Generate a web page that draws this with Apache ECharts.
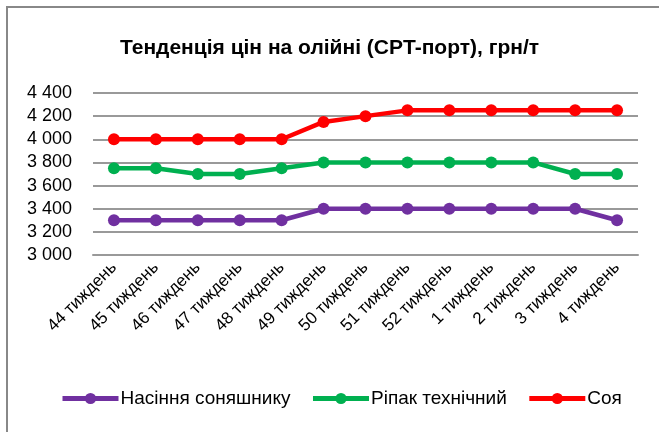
<!DOCTYPE html>
<html><head><meta charset="utf-8">
<script src="https://cdn.jsdelivr.net/npm/echarts@6/dist/echarts.min.js"></script>
<style>html,body{margin:0;padding:0;background:#fff}#c{width:659px;height:432px}</style>
</head><body><div id="c"></div>
<script>
const categories = ["44 тиждень","45 тиждень","46 тиждень","47 тиждень","48 тиждень","49 тиждень","50 тиждень","51 тиждень","52 тиждень","1 тиждень","2 тиждень","3 тиждень","4 тиждень"];
const sunflower = [3300,3300,3300,3300,3300,3400,3400,3400,3400,3400,3400,3400,3300];
const rapeseed = [3750,3750,3700,3700,3750,3800,3800,3800,3800,3800,3800,3700,3700];
const soy = [4000,4000,4000,4000,4000,4150,4200,4250,4250,4250,4250,4250,4250];
const seriesNames = ["Насіння соняшнику","Ріпак технічний","Соя"];
const colors = ["#7030A0","#00B050","#FF0000"];
const font = "Liberation Sans";
const chart = echarts.init(document.getElementById('c'));
const mk = (name, data, color) => ({
  name, type:'line', data, color,
  symbol:'circle', symbolSize:12,
  lineStyle:{width:4.5, color},
  itemStyle:{color},
  animation:false
});
chart.setOption({
  animation:false,
  graphic:[{type:'rect', shape:{x:7,y:7,width:700,height:500}, style:{fill:'none', stroke:'#888', lineWidth:2}, silent:true}],
  title:{text:"Тенденція цін на олійні (CPT-порт), грн/т", left:'center', top:33,
    textStyle:{fontFamily:font, fontWeight:'bold', fontSize:21, color:'#000'}},
  grid:{left:93, right:21, top:93, bottom:177, containLabel:false},
  legend:{bottom:19, left:55, itemWidth:56, itemHeight:14, itemGap:20,
    lineStyle:{width:5},
    itemStyle:{borderWidth:0},
    textStyle:{fontFamily:font, fontSize:19, color:'#000', padding:[0,0,0,-3]},
    data:seriesNames},
  xAxis:{type:'category', data:categories, boundaryGap:true,
    axisLine:{show:true, lineStyle:{color:'#999', width:2}},
    axisTick:{show:false},
    axisLabel:{rotate:45, fontFamily:font, fontSize:17, color:'#000', margin:10, interval:0}},
  yAxis:{type:'value', min:3000, max:4400, interval:200,
    axisLine:{show:false}, axisTick:{show:false},
    splitLine:{lineStyle:{color:'#999', width:2}},
    axisLabel:{fontFamily:font, fontSize:18, color:'#000', margin:21,
      formatter:v=>String(v).replace(/\B(?=(\d{3})+(?!\d))/g,' ')}},
  series:[mk(seriesNames[0], sunflower, colors[0]), mk(seriesNames[1], rapeseed, colors[1]), mk(seriesNames[2], soy, colors[2])]
});
</script></body></html>
